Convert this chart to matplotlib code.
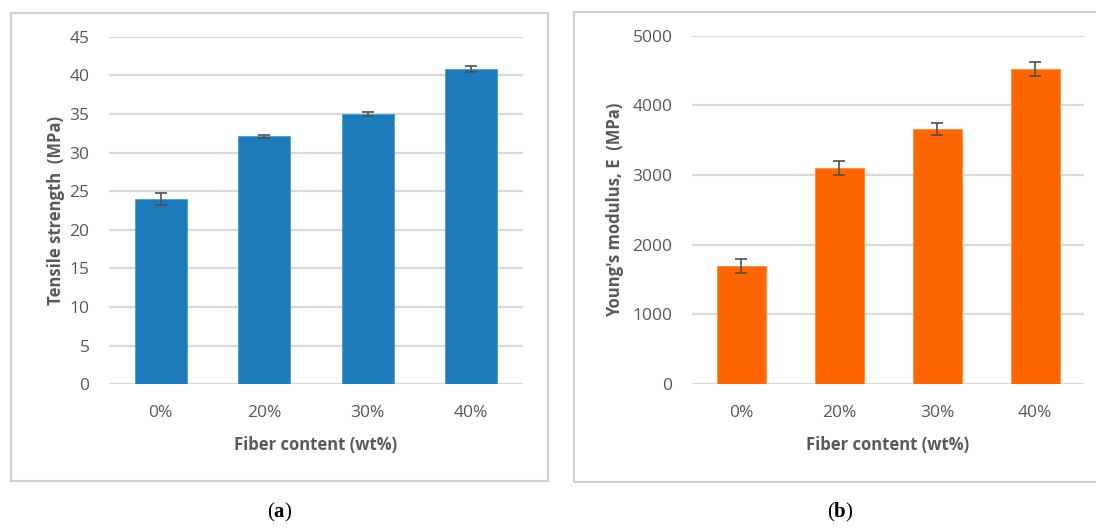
import matplotlib
matplotlib.use("Agg")
import matplotlib.pyplot as plt
from matplotlib.patches import Rectangle

# Data
fiber_content = ["0%", "20%", "30%", "40%"]
tensile_strength = [24.0, 32.1, 35.0, 40.8]
tensile_err = [0.8, 0.15, 0.25, 0.35]
youngs_modulus = [1700, 3100, 3660, 4520]
youngs_err = [100, 105, 80, 100]

plt.rcParams['font.family'] = ['Open Sans', 'DejaVu Sans']
plt.rcParams['mathtext.fontset'] = 'custom'
plt.rcParams['mathtext.rm'] = 'Liberation Serif'
plt.rcParams['mathtext.bf'] = 'Liberation Serif:bold'

W, H = 1096, 530
fig = plt.figure(figsize=(W / 100, H / 100), dpi=100)

TEXT = "#595959"
GRID = "#d9d9d9"


def px_axes(x0, x1, y_top, y_bot):
    return fig.add_axes([x0 / W, 1 - y_bot / H, (x1 - x0) / W, (y_bot - y_top) / H])


def frame(x0, x1, y0, y1):
    fig.patches.append(Rectangle((x0 / W, 1 - y1 / H), (x1 - x0) / W, (y1 - y0) / H,
                                 transform=fig.transFigure, fill=False,
                                 edgecolor="#d0d0d0", linewidth=1.5, zorder=0))


def style(ax, ymax, step, ylabel, ypad):
    ax.set_ylim(0, ymax)
    ax.set_xlim(-0.5, 3.5)
    ax.set_yticks(range(0, ymax + 1, step))
    ax.yaxis.grid(True, color=GRID, linewidth=1.6)
    ax.set_axisbelow(True)
    for s in ax.spines.values():
        s.set_visible(False)
    ax.tick_params(length=0, labelsize=12.5, labelcolor=TEXT)
    ax.tick_params(axis='y', pad=14)
    ax.tick_params(axis='x', pad=15)
    ax.set_xlabel("Fiber content (wt%)", fontsize=12, fontweight='bold', color=TEXT, labelpad=11)
    ax.set_ylabel(ylabel, fontsize=12, fontweight='bold', color=TEXT, labelpad=ypad)


frame(11, 548, 13, 481)
frame(574, 1100, 12, 482)

# Panel (a): tensile strength
ax1 = px_axes(109, 523, 36.7, 384.3)
ax1.bar(fiber_content, tensile_strength, width=0.5, color="#1c7cbb",
        edgecolor="#4d9bd0", linewidth=0.6)
ax1.errorbar(range(len(fiber_content)), tensile_strength, yerr=tensile_err, fmt='none',
             ecolor="#505050", elinewidth=1.2, capsize=4, capthick=1.2)
style(ax1, 45, 5, "Tensile strength  (MPa)", 3)

# Panel (b): Young's modulus
ax2 = px_axes(692, 1084, 35.7, 384)
ax2.bar(fiber_content, youngs_modulus, width=0.5, color="#ff6600",
        edgecolor="#ff8a3d", linewidth=0.6)
ax2.errorbar(range(len(fiber_content)), youngs_modulus, yerr=youngs_err, fmt='none',
             ecolor="#505050", elinewidth=1.2, capsize=4, capthick=1.2)
style(ax2, 5000, 1000, "Young's modulus, E  (MPa)", 6)

fig.text(280 / W, 1 - 512 / H, r"$\mathrm{(}\mathbf{a}\mathrm{)}$", ha='center', va='center',
         fontsize=15, color="black")
fig.text(840 / W, 1 - 512 / H, r"$\mathrm{(}\mathbf{b}\mathrm{)}$", ha='center', va='center',
         fontsize=15, color="black")

fig.savefig("out.png", dpi=100, facecolor="white")
